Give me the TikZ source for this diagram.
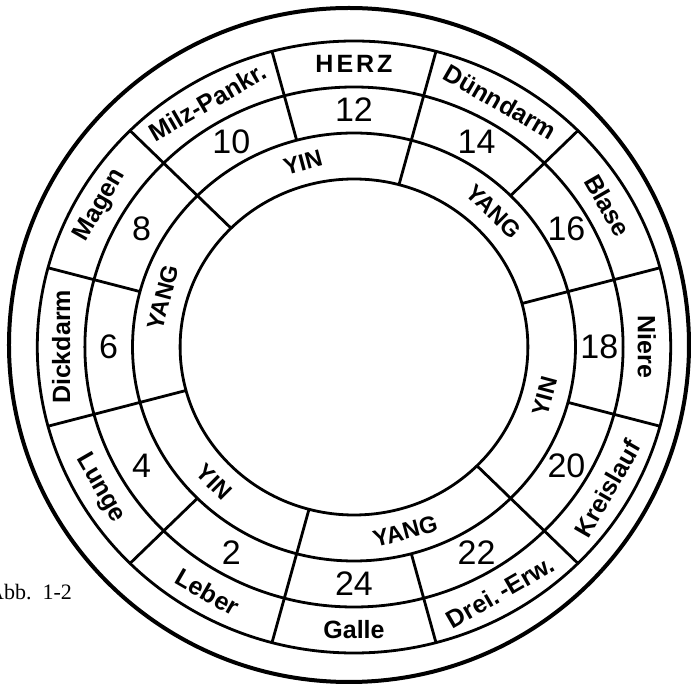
\documentclass[tikz,border=0pt]{standalone}
\usepackage{fontspec}
\setmainfont{Liberation Serif}
\setsansfont{Liberation Sans}

\tikzset{
	ringline/.style={line width=2.8pt},
	organlabel/.style={font=\sffamily\bfseries\fontsize{25}{27}\selectfont, inner sep=0pt},
	hourlabel/.style={font=\sffamily\fontsize{34}{36}\selectfont, inner sep=0pt},
	polelabel/.style={font=\sffamily\bfseries\fontsize{23.5}{25}\selectfont, inner sep=0pt},
}

\begin{document}
\begin{tikzpicture}[x=1.035pt, y=1pt]
	\useasboundingbox (-354pt,-340pt) rectangle (343pt,347pt);
	% circles
	\draw[line width=4pt] (-5pt,2pt) ellipse [x radius=340pt, y radius=337pt];
	\draw[ringline] (0,0) circle (306);
	\draw[ringline] (0,0) circle (260);
	\draw[ringline] (0,0) circle (214);
	\draw[ringline] (0,0) circle (168);
	% long dividers (through the yin/yang ring)
	\draw[ringline] (15:168) -- (15:306);
	\draw[ringline] (75:168) -- (75:306);
	\draw[ringline] (135:168) -- (135:306);
	\draw[ringline] (195:168) -- (195:306);
	\draw[ringline] (255:168) -- (255:306);
	\draw[ringline] (315:168) -- (315:306);
	% short dividers
	\draw[ringline] (45:214) -- (45:306);
	\draw[ringline] (105:214) -- (105:306);
	\draw[ringline] (165:214) -- (165:306);
	\draw[ringline] (225:214) -- (225:306);
	\draw[ringline] (285:214) -- (285:306);
	\draw[ringline] (345:214) -- (345:306);
	% organs
	\node[organlabel] (herz) at (90:283) {\addfontfeatures{LetterSpace=12}HERZ};
	\node[organlabel, rotate=-30] (duenndarm) at (60:283) {Dünndarm};
	\node[organlabel, rotate=-60] (blase) at (30:283) {Blase};
	\node[organlabel, rotate=-90] (niere) at (0:283) {Niere};
	\node[organlabel, rotate=60] (kreislauf) at (-30:283) {Kreislauf};
	\node[organlabel, rotate=30] (dreierw) at (-60:283) {Drei.\,-Erw.};
	\node[organlabel] (galle) at (-90:283) {Galle};
	\node[organlabel, rotate=-30] (leber) at (-120:283) {Leber};
	\node[organlabel, rotate=-60] (lunge) at (-150:283) {Lunge};
	\node[organlabel, rotate=90] (dickdarm) at (180:283) {Dickdarm};
	\node[organlabel, rotate=60] (magen) at (150:283) {Magen};
	\node[organlabel, rotate=30] (milz) at (120:283) {Milz-Pankr.};
	% hours
	\node[hourlabel] (h12) at (90:237) {12};
	\node[hourlabel] (h14) at (60:237) {14};
	\node[hourlabel] (h16) at (30:237) {16};
	\node[hourlabel] (h18) at (0:237) {18};
	\node[hourlabel] (h20) at (-30:237) {20};
	\node[hourlabel] (h22) at (-60:237) {22};
	\node[hourlabel] (h24) at (-90:237) {24};
	\node[hourlabel] (h2) at (-120:237) {2};
	\node[hourlabel] (h4) at (-150:237) {4};
	\node[hourlabel] (h6) at (180:237) {6};
	\node[hourlabel] (h8) at (150:237) {8};
	\node[hourlabel] (h10) at (120:237) {10};
	% yin / yang
	\node[polelabel, rotate=15] (yintop) at (105:191) {YIN};
	\node[polelabel, rotate=-45] (yangright) at (45:191) {YANG};
	\node[polelabel, rotate=75] (yangleft) at (165:191) {YANG};
	\node[polelabel, rotate=-45] (yinleft) at (225:191) {YIN};
	\node[polelabel, rotate=15] (yangbottom) at (285:191) {YANG};
	\node[polelabel, rotate=75] (yinright) at (345:191) {YIN};
	% caption
	\node[anchor=base west, inner sep=0pt, font=\rmfamily\fontsize{22}{24}\selectfont] (caption) at (-366pt,-253pt) {Abb.\ \ 1-2};
\end{tikzpicture}
\end{document}
